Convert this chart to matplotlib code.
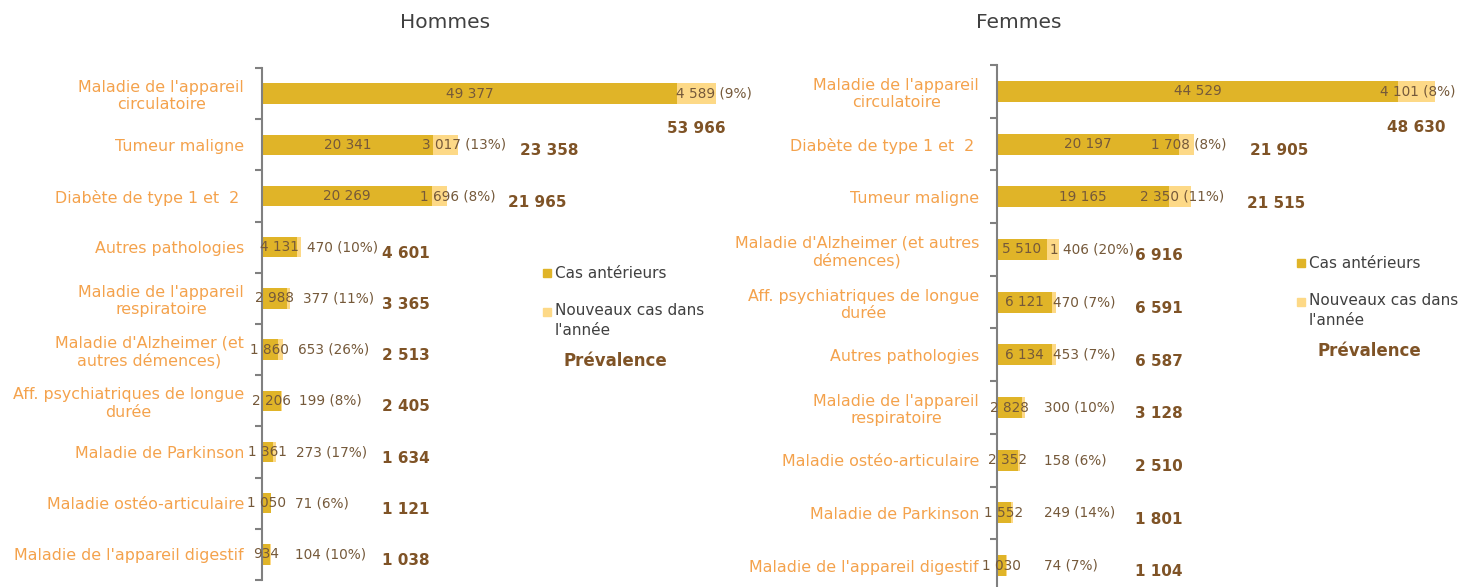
import matplotlib.pyplot as plt
from matplotlib.patches import Rectangle
import numpy as np

plt.rcParams['font.family'] = ['DejaVu Sans']

# Données Hommes
hommes_cat = ["Maladie de l'appareil\ncirculatoire", "Tumeur maligne", "Diabète de type 1 et  2 ",
              "Autres pathologies", "Maladie de l'appareil\nrespiratoire",
              "Maladie d'Alzheimer (et\nautres démences)", "Aff. psychiatriques de longue\ndurée",
              "Maladie de Parkinson", "Maladie ostéo-articulaire", "Maladie de l'appareil digestif"]
hommes_ant = [49377, 20341, 20269, 4131, 2988, 1860, 2206, 1361, 1050, 934]
hommes_new = [4589, 3017, 1696, 470, 377, 653, 199, 273, 71, 104]

# Données Femmes
femmes_cat = ["Maladie de l'appareil\ncirculatoire", "Diabète de type 1 et  2 ", "Tumeur maligne",
              "Maladie d'Alzheimer (et autres\ndémences)", "Aff. psychiatriques de longue\ndurée",
              "Autres pathologies", "Maladie de l'appareil\nrespiratoire", "Maladie ostéo-articulaire",
              "Maladie de Parkinson", "Maladie de l'appareil digestif"]
femmes_ant = [44529, 20197, 19165, 5510, 6121, 6134, 2828, 2352, 1552, 1030]
femmes_new = [4101, 1708, 2350, 1406, 470, 453, 300, 158, 249, 74]

C_ANT = '#E0B428'
C_NEW = '#FDD987'
C_CAT = '#F4A24C'
C_VAL = '#75593A'
C_TOT = '#7F5326'
C_AXE = '#808080'


def fmt(n):
    return f"{int(n):,}".replace(",", " ")


def panel(ax, cats, ant, new, xmax, min_new_px, shift_px, min_tot):
    ant = np.array(ant)
    new = np.array(new)
    tot = ant + new
    y = np.arange(len(cats))
    ax.barh(y, ant, height=0.4, color=C_ANT)
    ax.barh(y, new, left=ant, height=0.4, color=C_NEW)
    ax.set_xlim(0, xmax)
    ax.set_ylim(len(cats) - 0.5, -0.5)
    px = xmax / ax.bbox.width  # unités de données par pixel

    for i in range(len(cats)):
        ax.text(ant[i] / 2, y[i], fmt(ant[i]), ha='center', va='center',
                color=C_VAL, fontsize=9.8)
        pct = round(100 * new[i] / tot[i])
        lab = f"{fmt(new[i])} ({pct}%)"
        if ant[i] > 0.3 * xmax:
            ax.text(ant[i] + new[i] / 2 + shift_px * px, y[i], lab, ha='center', va='center',
                    color=C_VAL, fontsize=9.8)
        else:
            xn = max(min_new_px * px, ant[i] / 2 + 28 * px)
            ax.text(xn, y[i], lab, ha='left', va='center', color=C_VAL, fontsize=9.8)
        xt = max(tot[i] + 0.19 * xmax, min_tot * xmax)
        if xt > 0.95 * xmax:
            xt, yt = tot[i] - 0.04 * xmax, y[i] + 0.68
        else:
            yt = y[i] + 0.12
        ax.text(xt, yt, fmt(tot[i]), ha='center', va='center',
                color=C_TOT, fontsize=11, fontweight='bold')

    ax.set_yticks(y)
    ax.set_yticklabels(cats, color=C_CAT, fontsize=11.4, multialignment='center')
    ax.set_yticks(np.arange(len(cats) + 1) - 0.5, minor=True)
    ax.tick_params(axis='y', which='major', length=0, pad=13)
    ax.tick_params(axis='y', which='minor', length=5, width=1.5, color=C_AXE, direction='out')
    ax.set_xticks([])
    for s in ['top', 'right', 'bottom']:
        ax.spines[s].set_visible(False)
    ax.spines['left'].set_color(C_AXE)
    ax.spines['left'].set_linewidth(1.5)


def legende(fig, x, y):
    # x, y en pixels (origine en haut à gauche)
    W, H = 1480, 587
    sq = 8
    fig.patches.append(Rectangle((x / W, 1 - (y + sq / 2) / H), sq / W, sq / H,
                                 transform=fig.transFigure, color=C_ANT))
    fig.text((x + 12) / W, 1 - y / H, "Cas antérieurs", ha='left', va='center',
             color='#404040', fontsize=11)
    y2 = y + 39
    fig.patches.append(Rectangle((x / W, 1 - (y2 + sq / 2) / H), sq / W, sq / H,
                                 transform=fig.transFigure, color=C_NEW))
    fig.text((x + 12) / W, 1 - (y2 - 9) / H, "Nouveaux cas dans\nl'année", ha='left', va='top',
             color='#404040', fontsize=11, linespacing=1.45)
    fig.text((x + 72) / W, 1 - (y + 88) / H, "Prévalence", ha='center', va='center',
             color=C_TOT, fontsize=12, fontweight='bold')


fig = plt.figure(figsize=(14.8, 5.87), dpi=100)

ax1 = fig.add_axes([262 / 1480, 1 - 580 / 587, 479 / 1480, 512 / 587])
panel(ax1, hommes_cat, hommes_ant, hommes_new, 57000, 33, 18, 0.30)

ax2 = fig.add_axes([997 / 1480, 1 - 592 / 587, 450 / 1480, 527 / 587])
panel(ax2, femmes_cat, femmes_ant, femmes_new, 50000, 47, 2, 0.36)

fig.text(445 / 1480, 1 - 22 / 587, "Hommes", ha='center', va='center', fontsize=14.5, color='#404040')
fig.text(1019 / 1480, 1 - 22 / 587, "Femmes", ha='center', va='center', fontsize=14.5, color='#404040')

legende(fig, 543, 273)
legende(fig, 1297, 263)

fig.savefig('out.png', dpi=100)
